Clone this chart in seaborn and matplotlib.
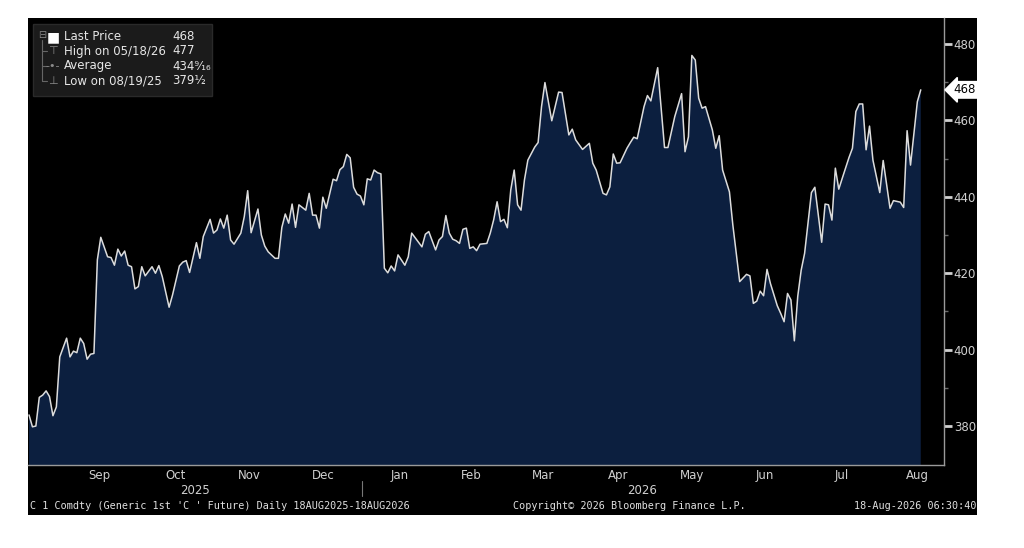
import numpy as np
import pandas as pd
import matplotlib
matplotlib.use("Agg")
import matplotlib.pyplot as plt
from matplotlib.patches import Rectangle
import seaborn as sns

# ---------------- data ----------------
start_date = "2025-08-18"
n_sessions = 262  # weekday sessions from 18AUG2025 to 18AUG2026
session_idx = [0, 1, 2, 3, 4, 5, 6, 7, 8, 9, 11, 12, 13, 14, 15, 16, 17, 18, 19, 20,
               21, 23, 24, 25, 26, 27, 28, 29, 30, 31, 32, 33, 34, 36, 37, 38, 39, 41, 42, 44,
               45, 46, 47, 49, 50, 51, 53, 54, 55, 56, 57, 58, 59, 60, 62, 63, 64, 65, 67, 68,
               69, 70, 72, 73, 74, 75, 76, 77, 78, 79, 81, 82, 83, 84, 85, 86, 87, 89, 90, 91,
               92, 93, 94, 95, 96, 97, 98, 99, 100, 101, 102, 103, 104, 105, 106, 107, 108, 110, 111, 112,
               115, 116, 117, 119, 120, 121, 122, 123, 124, 125, 126, 127, 128, 129, 130, 131, 132, 134, 135, 136,
               137, 138, 139, 140, 141, 142, 143, 144, 145, 146, 148, 149, 150, 151, 153, 155, 156, 158, 159, 160,
               162, 164, 165, 166, 168, 169, 170, 171, 172, 173, 175, 176, 177, 178, 180, 181, 182, 184, 186, 187,
               189, 191, 192, 193, 194, 195, 196, 197, 198, 200, 201, 202, 203, 205, 206, 208, 210, 211, 212, 213,
               214, 215, 216, 217, 219, 220, 221, 222, 223, 224, 225, 226, 227, 229, 230, 232, 233, 234, 235, 236,
               237, 238, 240, 241, 242, 243, 244, 245, 246, 247, 249, 250, 252, 253, 255, 256, 257, 258, 260, 261]
price = [382.9, 379.8, 380.0, 387.5, 388.1, 389.2, 387.7, 382.7, 385.0, 398.1, 403.0, 398.1, 399.6, 399.2, 403.0, 401.6, 397.5, 398.8, 399.0, 423.5,
         429.4, 424.3, 424.1, 422.1, 426.3, 424.5, 425.8, 422.1, 421.7, 415.9, 416.5, 421.7, 419.3, 421.7, 420.0, 422.0, 419.1, 411.1, 414.3, 421.9,
         422.9, 423.3, 420.2, 428.0, 423.9, 429.6, 434.1, 430.5, 431.3, 434.2, 431.8, 435.2, 428.7, 427.6, 430.5, 434.8, 441.6, 430.6, 436.8, 430.0,
         427.1, 425.6, 423.9, 423.9, 432.0, 435.5, 433.1, 438.1, 432.0, 437.9, 436.5, 440.9, 435.2, 435.2, 431.8, 439.9, 437.0, 444.6, 444.2, 447.1,
         447.9, 451.1, 450.2, 442.5, 440.7, 440.2, 437.9, 444.7, 444.4, 447.0, 446.3, 446.0, 421.3, 420.1, 421.9, 420.6, 424.8, 422.1, 424.3, 430.5,
         426.9, 430.2, 430.9, 426.1, 428.7, 429.6, 435.1, 430.5, 428.9, 428.5, 427.8, 431.5, 431.8, 426.5, 426.9, 425.9, 427.6, 427.8, 430.5, 434.0,
         438.7, 433.5, 434.1, 431.9, 441.8, 447.0, 437.9, 436.5, 444.4, 449.6, 453.0, 454.2, 463.6, 469.9, 459.9, 467.4, 467.3, 456.2, 457.7, 454.9,
         452.4, 454.0, 448.8, 447.0, 440.9, 440.5, 442.6, 451.2, 448.8, 448.9, 452.7, 454.2, 455.6, 455.2, 463.6, 466.5, 465.1, 473.8, 452.9, 452.9,
         461.0, 467.0, 451.8, 455.7, 477.0, 475.8, 465.8, 463.2, 463.6, 457.5, 452.7, 456.0, 447.0, 441.3, 432.6, 417.8, 419.7, 419.3, 412.1, 412.7,
         415.3, 414.1, 421.0, 417.3, 411.5, 409.5, 407.3, 414.7, 413.0, 402.3, 414.0, 420.8, 425.2, 441.1, 442.5, 428.1, 438.1, 437.9, 433.9, 447.5,
         442.0, 444.8, 450.3, 452.7, 462.3, 464.3, 464.3, 452.3, 458.5, 449.6, 441.1, 449.5, 437.0, 439.0, 438.6, 437.2, 457.3, 448.3, 464.9, 468.0]

y_ticks = [380, 400, 420, 440, 460, 480]
y_minor = [390, 410, 430, 450, 470]
legend_labels = ["Last Price", "High on 05/18/26", "Average", "Low on 08/19/25"]
legend_values = ["468", "477", "434\u2079\u2044\u2081\u2086", "379\u00bd"]
last_price = 468
footer_left = "C 1 Comdty (Generic 1st 'C ' Future) Daily 18AUG2025-18AUG2026"
footer_mid = "Copyright\u00a9 2026 Bloomberg Finance L.P."
footer_right = "18-Aug-2026 06:30:40"

# ---------------- build frame ----------------
sessions = pd.bdate_range(start_date, periods=n_sessions)
df = pd.DataFrame({"i": session_idx, "price": price})
df["date"] = sessions[df["i"].values]

X_MIN, X_MAX = -0.3, 267.8

# month boundaries / centres on weekday-session axis (extend beyond data for label centring)
all_days = pd.bdate_range(start_date, periods=n_sessions + 25)
pos = pd.Series(np.arange(len(all_days)), index=all_days)
months = pos.groupby(all_days.to_period("M"))
month_starts = [g.iloc[0] for _, g in months][1:13]
month_cent = [(g.iloc[0] + g.iloc[-1]) / 2 for _, g in months][1:13]
month_names = [p.strftime("%b") for p, _ in months][1:13]
in_range = pos[pos.index <= sessions[-1]]
year_groups = in_range.groupby(in_range.index.year)
year_cent = {y: (g.iloc[0] + g.iloc[-1]) / 2 for y, g in year_groups}
jan_start = [g.iloc[0] for y, g in year_groups][1]

# ---------------- figure ----------------
sns.set_style("dark", {"axes.facecolor": "black"})
plt.rcParams["font.family"] = ["DejaVu Sans"]

W, H = 1024, 548
fig = plt.figure(figsize=(W / 100, H / 100), dpi=100, facecolor="white")
fig.patches.append(Rectangle((28 / W, (H - 515) / H), (977 - 28) / W, (515 - 18) / H,
                             transform=fig.transFigure, facecolor="black", edgecolor="none", zorder=-5))
ax = fig.add_axes([28 / W, (H - 465) / H, (944 - 28) / W, (465 - 18) / H])
ax.set_zorder(1)
ax.set_facecolor("black")

fill_c = "#0c1f3f"
line_c = "#dcdcdc"
ax.fill_between(df["i"], df["price"], 300, color=fill_c, lw=0, zorder=1)
sns.lineplot(data=df, x="i", y="price", ax=ax, color=line_c, lw=1.1, zorder=2)

ax.set_xlabel("")
ax.set_ylabel("")
ax.grid(False)

for s in ["left", "top"]:
    ax.spines[s].set_visible(False)
for s in ["right", "bottom"]:
    ax.spines[s].set_visible(True)
    ax.spines[s].set_color("#9a9a9a")
    ax.spines[s].set_linewidth(1.0)

# y axis on the right
ax.yaxis.tick_right()
ax.set_yticks(y_ticks)
ax.set_yticks(y_minor, minor=True)
ax.tick_params(axis="y", which="major", direction="out", length=6, width=2.0,
               colors="#d0d0d0", labelsize=8.5, pad=1)
ax.tick_params(axis="y", which="minor", direction="out", length=3, width=1.0, colors="#6a6a6a")

# x axis: boundary ticks + centred month names
ax.set_xticks([m - 0.5 for m in month_starts])
ax.set_xticklabels([])
ax.set_xticks(month_cent, minor=True)
ax.set_xticklabels(month_names, minor=True)
ax.tick_params(axis="x", which="major", direction="in", length=3, width=1, colors="#9a9a9a")
ax.tick_params(axis="x", which="minor", length=0, labelsize=8.5, labelcolor="#d0d0d0", pad=3)

# limits last (set_ticks can widen the view)
ax.set_xlim(X_MIN, X_MAX)
ax.set_ylim(369.8, 486.8)

# year labels
for yr, c in year_cent.items():
    ax.text(c, -0.056, str(yr), transform=ax.get_xaxis_transform(), ha="center", va="center",
            fontsize=8.5, color="#d0d0d0", clip_on=False)
ax.plot([jan_start - 0.5, jan_start - 0.5], [-0.035, -0.07], transform=ax.get_xaxis_transform(),
        color="#777777", lw=0.8, clip_on=False)

# last price tag
ax.annotate(str(last_price), xy=(1.0, last_price), xycoords=("axes fraction", "data"),
            xytext=(7, 0), textcoords="offset points", ha="left", va="center",
            fontsize=8.5, color="black",
            bbox=dict(boxstyle="larrow,pad=0.15", fc="white", ec="white"), annotation_clip=False)

# legend box
lx0, ly0, lw_, lh_ = 33 / W, (H - 96) / H, (212 - 33) / W, (96 - 24) / H
fig.patches.append(Rectangle((lx0, ly0), lw_, lh_, transform=fig.transFigure,
                             facecolor="#1b1b1b", edgecolor="#2a2a2a", zorder=5))
rows_y = [37, 51, 66, 81]
symbols = ["\u25a0", "\u22a4", "\u2010\u2022\u2010", "\u22a5"]
sym_col = ["white", "#8a8a8a", "#8a8a8a", "#8a8a8a"]
for ry, lab, val, sym, sc in zip(rows_y, legend_labels, legend_values, symbols, sym_col):
    yy = (H - ry) / H
    fig.text(53 / W, yy, sym, ha="center", va="center", fontsize=8 if sc != "white" else 10,
             color=sc, zorder=6)
    fig.text(64 / W, yy, lab, ha="left", va="center", fontsize=8.5, color="#e6e6e6", zorder=6)
    fig.text(172 / W, yy, val, ha="left", va="center", fontsize=8.5, color="#e6e6e6", zorder=6)
# tree guide lines
fig.add_artist(plt.Line2D([42 / W, 42 / W], [(H - 40) / H, (H - 81) / H], color="#666666", lw=0.8, zorder=6))
for ry in rows_y[1:]:
    fig.add_artist(plt.Line2D([42 / W, 47 / W], [(H - ry) / H, (H - ry) / H], color="#666666", lw=0.8, zorder=6))
fig.text(42 / W, (H - 35) / H, "\u229f", ha="center", va="center", fontsize=7, color="#888888", zorder=6)

# footer
mono = ["DejaVu Sans Mono"]
fig.text(30 / W, (H - 506) / H, footer_left, ha="left", va="center", fontsize=7.3,
         color="#e0e0e0", family=mono)
fig.text(513 / W, (H - 506) / H, footer_mid, ha="left", va="center", fontsize=7.3,
         color="#e0e0e0", family=mono)
fig.text(976 / W, (H - 506) / H, footer_right, ha="right", va="center", fontsize=7.3,
         color="#e0e0e0", family=mono)

fig.savefig("out.png", dpi=100, facecolor="white")
